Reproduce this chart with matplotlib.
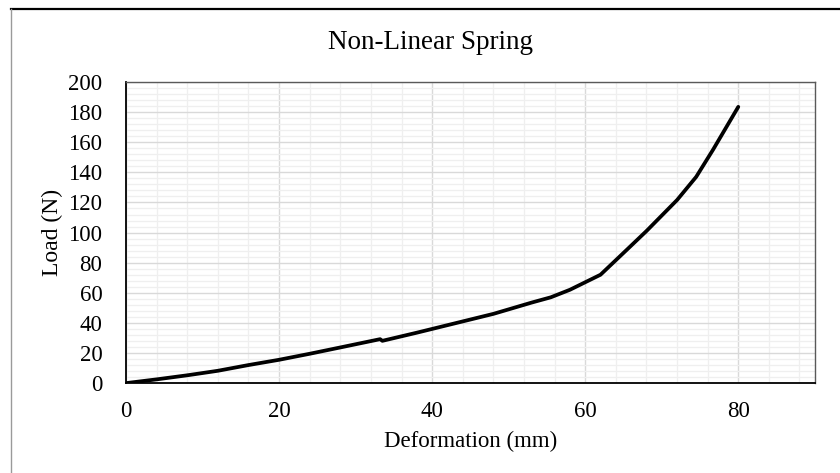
import matplotlib.pyplot as plt
from matplotlib.lines import Line2D
from matplotlib.ticker import MultipleLocator

# deformation (mm) and load (N) of the spring
deformation = [0, 4, 8, 12, 16, 20, 24, 28, 33.2, 33.5, 38, 44, 48, 51, 53,
               55.5, 58, 61, 62, 65.4, 68, 72, 74.5, 76.7, 80]
load = [0, 2.5, 5.2, 8.2, 12, 15.5, 19.5, 23.7, 29.2, 28.1, 33.5, 41, 46, 50.5,
        53.5, 57, 62, 69.5, 72, 88.4, 101, 121.6, 137, 155, 183.5]

plt.rcParams['font.family'] = 'Liberation Serif'

fig = plt.figure(figsize=(8.4, 4.73), dpi=100)
ax = fig.add_axes([0.15, 0.19, 0.82, 0.6366])

ax.plot(deformation, load, color='black', lw=2.7, solid_joinstyle='round',
        solid_capstyle='round')

ax.set_xlim(0, 90)
ax.set_ylim(0, 200)
ax.xaxis.set_major_locator(MultipleLocator(20))
ax.xaxis.set_minor_locator(MultipleLocator(4))
ax.yaxis.set_major_locator(MultipleLocator(20))
ax.yaxis.set_minor_locator(MultipleLocator(4))
ax.grid(which='major', color='#d9d9d9', lw=1.0)
ax.grid(which='minor', color='#efefef', lw=0.9)
ax.set_axisbelow(True)
ax.tick_params(which='both', length=0, labelsize=16.5)
ax.tick_params(axis='x', pad=13)
ax.tick_params(axis='y', pad=17)

for s in ['top', 'right']:
    ax.spines[s].set_color('#595959')
    ax.spines[s].set_linewidth(1.0)
for s in ['left', 'bottom']:
    ax.spines[s].set_color('black')
    ax.spines[s].set_linewidth(1.3)

ax.set_xlabel('Deformation (mm)', fontsize=16.5, labelpad=6)
ax.set_ylabel('Load (N)', fontsize=17, labelpad=4)
fig.text(0.513, 0.91, 'Non-Linear Spring', fontsize=19.5, ha='center', va='center')

# outer chart border
fig.add_artist(Line2D([11 / 840, 1], [1 - 9 / 473, 1 - 9 / 473], color='black', lw=1.6))
fig.add_artist(Line2D([11 / 840, 11 / 840], [0, 1 - 9 / 473], color='#9a9a9a', lw=1.0))

fig.savefig('out.png', dpi=100)
